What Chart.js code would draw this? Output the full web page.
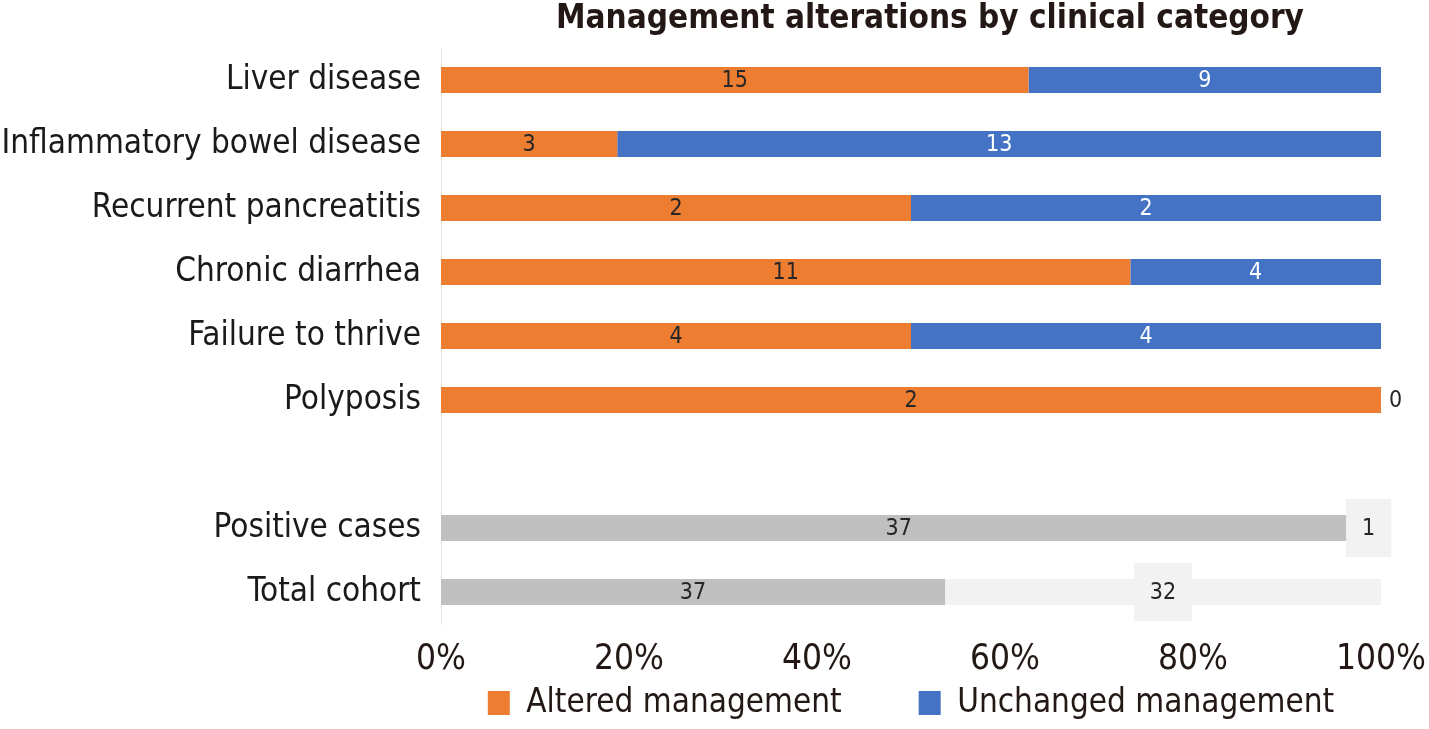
<!DOCTYPE html>
<html>
<head>
<meta charset="utf-8">
<script src="https://cdn.jsdelivr.net/npm/chart.js@4/dist/chart.umd.min.js"></script>
<style>
  html, body { margin: 0; padding: 0; background: #fff; }
  #wrap { width: 1429px; height: 729px; }
</style>
</head>
<body>
<div id="wrap"><canvas id="c"></canvas></div>
<script>
const categories = ["Liver disease", "Inflammatory bowel disease", "Recurrent pancreatitis", "Chronic diarrhea", "Failure to thrive", "Polyposis", "", "Positive cases", "Total cohort"];
const alteredValues = [15, 3, 2, 11, 4, 2, null, 37, 37];
const unchangedValues = [9, 13, 2, 4, 4, 0, null, 1, 32];
const seriesNames = ["Altered management", "Unchanged management"];
const xTickValues = [0, 20, 40, 60, 80, 100];
const chartTitle = "Management alterations by clinical category";

const FONT = "'DejaVu Sans Condensed', 'Liberation Sans Narrow', 'DejaVu Sans', sans-serif";
const ORANGE = '#ED7D31', BLUE = '#4472C4', GREY = '#BFBFBF', LIGHT = '#F2F2F2';
const alteredColors = categories.map((c, i) => i >= 7 ? GREY : ORANGE);
const unchangedColors = categories.map((c, i) => i === 7 ? '#FFFFFF' : (i === 8 ? LIGHT : BLUE));
const boxedLabel = categories.map((c, i) => i >= 7);

const totals = categories.map((c, i) => (alteredValues[i] ?? 0) + (unchangedValues[i] ?? 0));
const pct = (arr) => arr.map((v, i) => v === null ? null : v / totals[i] * 100);

const LEGEND_PAD = 77;
const LEGEND_FONT = 33;

const labelPlugin = {
  id: 'valueLabels',
  afterDatasetsDraw(chart) {
    const ctx = chart.ctx;
    ctx.save();
    ctx.font = "23px " + FONT;
    ctx.textBaseline = 'middle';
    chart.data.datasets.forEach((ds, di) => {
      const meta = chart.getDatasetMeta(di);
      meta.data.forEach((el, i) => {
        const raw = ds.raw[i];
        if (raw === null || raw === undefined) return;
        const props = el.getProps(['x', 'y', 'base'], true);
        const x = (props.x + props.base) / 2;
        const y = props.y;
        const txt = String(raw);
        if (raw === 0) {
          ctx.textAlign = 'left';
          ctx.fillStyle = '#262626';
          ctx.fillText(txt, props.x + 8, y + 1);
          return;
        }
        const w = ctx.measureText(txt).width;
        if (di === 1 && boxedLabel[i]) {
          ctx.fillStyle = LIGHT;
          ctx.fillRect(x - w / 2 - 16, y - 29, w + 32, 58);
        }
        ctx.textAlign = 'center';
        ctx.fillStyle = (di === 1 && !boxedLabel[i]) ? '#FFFFFF' : '#262626';
        ctx.fillText(txt, x, y + 1);
      });
    });
    ctx.restore();
  }
};

const titlePlugin = {
  id: 'customTitle',
  afterLayout(chart) {
    const lg = chart.legend;
    if (lg) {
      lg.top = 703 - LEGEND_FONT / 2 - LEGEND_PAD;
      lg.bottom = chart.height;
      lg.height = lg.bottom - lg.top;
      lg.right = chart.width;
      lg.left = chart.chartArea.left + chart.chartArea.right - chart.width;
      lg.width = lg.right - lg.left;
    }
  },
  afterDraw(chart) {
    const ctx = chart.ctx;
    ctx.save();
    ctx.font = "bold 33px " + FONT;
    ctx.fillStyle = '#231815';
    ctx.textAlign = 'center';
    ctx.textBaseline = 'middle';
    ctx.fillText(chartTitle, 930, 19);
    ctx.restore();
  }
};

new Chart(document.getElementById('c'), {
  type: 'bar',
  data: {
    labels: categories,
    datasets: [
      { label: seriesNames[0], data: pct(alteredValues), raw: alteredValues, backgroundColor: alteredColors, legendColor: ORANGE, borderWidth: 0 },
      { label: seriesNames[1], data: pct(unchangedValues), raw: unchangedValues, backgroundColor: unchangedColors, legendColor: BLUE, borderWidth: 0 }
    ]
  },
  options: {
    indexAxis: 'y',
    responsive: true,
    maintainAspectRatio: false,
    animation: false,
    devicePixelRatio: 1,
    layout: { padding: { top: 48, right: 48, left: 0, bottom: 0 } },
    datasets: { bar: { barPercentage: 0.41, categoryPercentage: 1 } },
    scales: {
      x: {
        stacked: true, min: 0, max: 100,
        afterBuildTicks(scale) { scale.ticks = xTickValues.map(v => ({ value: v })); },
        afterFit(scale) { scale.height = 50; scale.paddingRight = 0; scale.paddingLeft = 0; },
        grid: { display: false, drawTicks: false },
        border: { display: false },
        ticks: { padding: 15, maxRotation: 0, autoSkip: false, color: '#231815', font: { family: FONT, size: 35 }, callback: v => v + '%' }
      },
      y: {
        stacked: true,
        afterFit(scale) { scale.width = 441; },
        grid: { display: false, drawTicks: false },
        border: { display: true, color: '#E6E6E6', width: 1 },
        ticks: { padding: 20, autoSkip: false, color: '#1A1A1A', font: { family: FONT, size: 33 } }
      }
    },
    plugins: {
      title: { display: false },
      tooltip: { enabled: false },
      legend: {
        position: 'bottom',
        fullSize: true,
        maxHeight: 55,
        labels: {
          boxWidth: 22, boxHeight: 24, padding: LEGEND_PAD,
          color: '#231815',
          font: { family: FONT, size: LEGEND_FONT },
          generateLabels(chart) {
            return chart.data.datasets.map((ds, i) => ({
              text: ds.label, fillStyle: ds.legendColor, strokeStyle: ds.legendColor,
              lineWidth: 0, hidden: false, datasetIndex: i, fontColor: '#231815'
            }));
          }
        }
      }
    }
  },
  plugins: [labelPlugin, titlePlugin]
});
</script>
</body>
</html>
